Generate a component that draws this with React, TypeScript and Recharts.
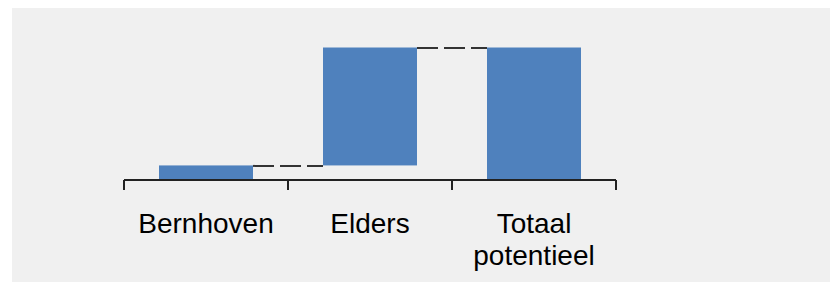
import React from "react";
import { BarChart, Bar, XAxis, YAxis } from "recharts";

const CATEGORIES = ["Bernhoven", "Elders", "Totaal potentieel"];
const BASES = [0, 11, 0];
const VALUES = [11, 89, 100];

const DATA = CATEGORIES.map((name, i) => ({ name, base: BASES[i], value: VALUES[i] }));

const BLUE = "#4f81bd";
const AXIS = "#222";
const GAP = 35;

const WaterfallBar = (props: any) => {
  const { x, y, width, height, index } = props;
  const last = index === CATEGORIES.length - 1;
  return (
    <g>
      <rect x={x} y={y} width={width} height={height} fill={BLUE} />
      {!last && (
        <line
          x1={x + width}
          x2={x + width + GAP * 2}
          y1={y + 0.5}
          y2={y + 0.5}
          stroke="#333"
          strokeWidth={2}
          strokeDasharray="21 6"
        />
      )}
    </g>
  );
};

// label at band centre, tick marks at the band edges
const LabelTick = (props: any) => {
  const { x, y, payload, index, width, visibleTicksCount } = props;
  const band = width && visibleTicksCount ? width / visibleTicksCount : 164;
  const lines = String(payload.value).split(" ");
  const edges = [x - band / 2];
  if (index === visibleTicksCount - 1) edges.push(x + band / 2);
  return (
    <g>
      {edges.map((ex, i) => (
        <line key={i} x1={ex} x2={ex} y1={y} y2={y + 10} stroke={AXIS} strokeWidth={2} />
      ))}
      <text
        x={x}
        y={y}
        textAnchor="middle"
        fill="#000"
        fontSize={28}
        fontFamily="'Liberation Sans', Arial, sans-serif"
      >
        {lines.map((l, i) => (
          <tspan key={i} x={x} dy={i === 0 ? 53 : 32}>
            {l}
          </tspan>
        ))}
      </text>
    </g>
  );
};

export default function App() {
  return (
    <div style={{ marginLeft: 4, width: 826, height: 274, background: "#f0f0f0" }}>
      <BarChart
        width={826}
        height={274}
        data={DATA}
        margin={{ top: 39.5, right: 222, left: 112, bottom: 101 }}
        barCategoryGap={GAP}
      >
        <XAxis
          dataKey="name"
          height={1}
          axisLine={{ stroke: AXIS, strokeWidth: 2 }}
          tickLine={false}
          tickSize={0}
          tickMargin={0}
          tick={<LabelTick />}
          interval={0}
        />
        <YAxis hide domain={[0, 100]} />
        <Bar dataKey="base" stackId="w" fill="transparent" isAnimationActive={false} />
        <Bar
          dataKey="value"
          stackId="w"
          fill={BLUE}
          shape={<WaterfallBar />}
          isAnimationActive={false}
        />
      </BarChart>
    </div>
  );
}
